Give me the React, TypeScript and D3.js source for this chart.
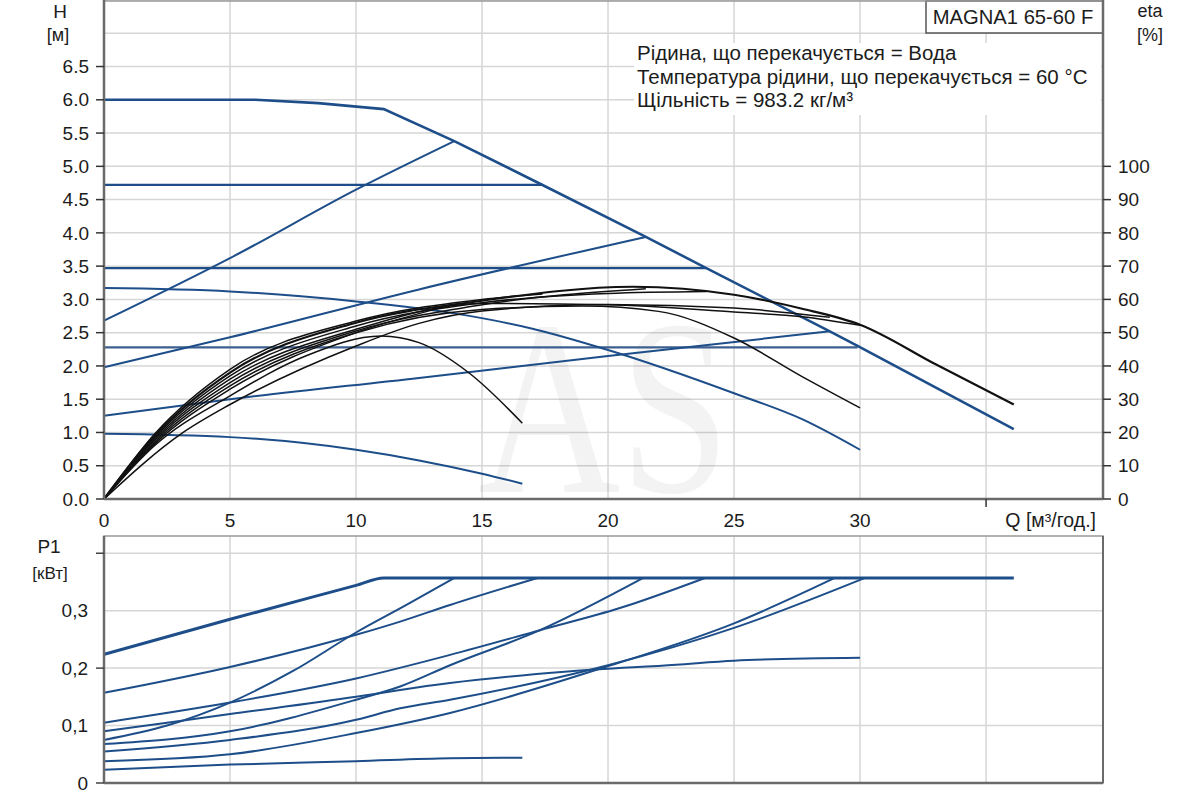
import * as d3 from "d3";

type Pt = [number, number];

// Q axis (m³/h), shared by both panels
const Q_TICKS = [0, 5, 10, 15, 20, 25, 30, 35];
const Q_LABELS = ["0", "5", "10", "15", "20", "25", "30"];
const H_TICKS = [0, 0.5, 1, 1.5, 2, 2.5, 3, 3.5, 4, 4.5, 5, 5.5, 6, 6.5, 7, 7.5];
const H_LABELS = [0, 0.5, 1, 1.5, 2, 2.5, 3, 3.5, 4, 4.5, 5, 5.5, 6, 6.5];
const ETA_LABELS = [0, 10, 20, 30, 40, 50, 60, 70, 80, 90, 100];
const P_TICKS = [0, 0.1, 0.2, 0.3, 0.4];
const P_LABELS = [0, 0.1, 0.2, 0.3];

// QH curves [Q, H]
const maxCurve: Pt[] = [[0, 6.0], [6, 6.0], [8.5, 5.95], [11.1, 5.86], [13.9, 5.38], [17.4, 4.72], [21.5, 3.94], [23.9, 3.47], [28.8, 2.52], [29.9, 2.3], [36.1, 1.05]];
const constHeads = [4.72, 3.47, 2.28];
const constEnds = [17.4, 23.9, 29.9];
const propCurve1: Pt[] = [[0, 2.68], [5, 3.62], [10, 4.65], [13.9, 5.38]];
const propCurve2: Pt[] = [[0, 1.98], [5, 2.43], [12.5, 3.15], [21.5, 3.94]];
const propCurve3: Pt[] = [[0, 1.25], [5, 1.5], [12.5, 1.82], [20, 2.15], [28.8, 2.52]];
const fixedSpeed1: Pt[] = [[0, 3.17], [5, 3.12], [10, 2.97], [13.9, 2.79], [17, 2.56], [20, 2.24], [25, 1.59], [27.7, 1.2], [30, 0.74]];
const fixedSpeed2: Pt[] = [[0, 0.98], [5, 0.93], [10, 0.74], [12.5, 0.58], [15, 0.38], [16.6, 0.23]];

// efficiency curves [Q, eta %]
const etaMax: Pt[] = [[0, 0], [2, 19], [5, 38], [10, 53], [15, 59.6], [21, 63.8], [25, 61.4], [27.7, 57.2], [30, 52.4], [33, 40.5], [36.1, 28.4]];
const etaConst1: Pt[] = [[0, 0], [2, 19.5], [5, 39], [10, 53.5], [15, 60], [17.4, 61.6]];
const etaConst2: Pt[] = [[0, 0], [2, 18.5], [5, 37], [10, 52], [15, 59], [20, 61.8], [23.9, 62.4]];
const etaConst3: Pt[] = [[0, 0], [2, 18], [5, 36], [10, 51], [15, 58.8], [20, 58.4], [25, 56.2], [27.7, 54.8], [30, 52.2]];
const etaProp1: Pt[] = [[0, 0], [2, 16.5], [5, 33], [10, 50], [13.9, 58.5]];
const etaProp2: Pt[] = [[0, 0], [2, 17.5], [5, 35], [10, 50.5], [15, 58.4], [21.5, 63.2]];
const etaProp3: Pt[] = [[0, 0], [3.1, 19.8], [5, 28.4], [10, 46], [12.5, 52.8], [15, 56.5], [20, 58.5], [25, 57.4], [28.8, 54.6]];
const etaFixed1: Pt[] = [[0, 0], [2, 17], [5, 34], [10, 50], [15, 57], [19, 58], [22, 56.4], [25, 48.4], [27.7, 36.8], [30, 27.4]];
const etaFixed2: Pt[] = [[0, 0], [2, 16], [5, 31], [8, 43], [11, 49], [12.5, 47], [14.5, 37.8], [16.6, 22.8]];

// power P1 [Q, kW]
const pMax: Pt[] = [[0, 0.224], [5, 0.285], [10, 0.344], [11.1, 0.357], [36.1, 0.357]];
const pConst1: Pt[] = [[0, 0.157], [5, 0.202], [10, 0.258], [11.75, 0.281], [13.73, 0.31], [17.2, 0.357]];
const pConst2: Pt[] = [[0, 0.105], [5, 0.14], [10, 0.182], [13.73, 0.223], [17.3, 0.266], [20.5, 0.305], [23.85, 0.357]];
const pConst3: Pt[] = [[0, 0.055], [5, 0.075], [10, 0.11], [11.75, 0.13], [13.73, 0.145], [20, 0.205], [25, 0.27], [30.2, 0.357]];
const pProp1: Pt[] = [[0, 0.075], [2.5, 0.1], [5, 0.14], [7.5, 0.195], [10, 0.262], [12, 0.31], [13.9, 0.357]];
const pProp2: Pt[] = [[0, 0.068], [5, 0.09], [10, 0.145], [11.75, 0.168], [13.73, 0.205], [17.3, 0.266], [21.4, 0.357]];
const pProp3: Pt[] = [[0, 0.038], [5, 0.05], [10, 0.087], [13.73, 0.122], [19.9, 0.202], [25, 0.278], [29, 0.357]];
const pFixed1: Pt[] = [[0, 0.09], [5, 0.12], [10, 0.15], [11.75, 0.162], [13.73, 0.174], [18.4, 0.194], [22.7, 0.206], [25, 0.213], [30, 0.218]];
const pFixed2: Pt[] = [[0, 0.023], [5, 0.032], [10, 0.038], [13.73, 0.043], [16.6, 0.044]];

const infoLines = [
  "Рідина, що перекачується = Вода",
  "Температура рідини, що перекачується = 60 °C",
  "Щільність = 983.2 кг/м³",
];

const BLUE = "#1d4e89";
const GRID = "#d6d6d6";
const AXIS = "#6a6a6a";
const INK = "#1c1c1c";
const FONT = "'Liberation Sans', Arial, sans-serif";

export default function App() {
  const left = 104;
  const right = 1103;

  const x = d3.scaleLinear().domain([0, 39.64]).range([left, right]);
  const yH = d3.scaleLinear().domain([0, 7.5]).range([499, 0]);
  const yEta = d3.scaleLinear().domain([0, 150]).range([499, 0]);
  const yP = d3.scaleLinear().domain([0, 0.43]).range([783, 536]);

  const lineH = d3.line<Pt>().x((d) => x(d[0])).y((d) => yH(d[1])).curve(d3.curveMonotoneX);
  const lineMax = d3.line<Pt>().x((d) => x(d[0])).y((d) => yH(d[1]));
  const lineEta = d3.line<Pt>().x((d) => x(d[0])).y((d) => yEta(d[1])).curve(d3.curveMonotoneX);
  const lineP = d3.line<Pt>().x((d) => x(d[0])).y((d) => yP(d[1])).curve(d3.curveMonotoneX);

  const blueH = [propCurve1, propCurve2, propCurve3, fixedSpeed1, fixedSpeed2];
  const etaCurves = [etaConst1, etaConst2, etaConst3, etaProp1, etaProp2, etaProp3, etaFixed1, etaFixed2];
  const powerCurves = [pConst1, pConst2, pConst3, pProp1, pProp2, pProp3, pFixed1, pFixed2];

  const fmtP = (v: number) => (v === 0 ? "0" : d3.format(".1f")(v).replace(".", ","));

  return (
    <div style={{ position: "fixed", left: 0, top: 0, width: 1200, height: 800, background: "#fff" }}>
      <svg width={1200} height={800} style={{ display: "block", fontFamily: FONT }}>
        <rect width={1200} height={800} fill="#fff" />

        {/* ---------- top panel: H / eta ---------- */}
        <g>
          {Q_TICKS.slice(1).map((q) => (
            <line key={"vg" + q} x1={x(q)} x2={x(q)} y1={yH(7.5)} y2={yH(0)} stroke={GRID} strokeWidth={1.5} />
          ))}
          {H_TICKS.slice(1).map((h) => (
            <line key={"hg" + h} x1={left} x2={right} y1={yH(h)} y2={yH(h)} stroke={GRID} strokeWidth={1.5} />
          ))}

          {/* watermark */}
          <text x={478} y={492} fontFamily="'Liberation Serif', 'DejaVu Serif', serif" fontSize={250}
            textLength={252} lengthAdjust="spacingAndGlyphs" fill="#000" opacity={0.045}>AS</text>

          {/* info box */}
          <rect x={634} y={43} width={467} height={72} fill="#fff" />
          {infoLines.map((t, i) => (
            <text key={t} x={637} y={53 + i * 23.5} dy="0.35em" fontSize={20.5} fill={INK}>{t}</text>
          ))}
          <rect x={926} y={1} width={177} height={32} fill="#fff" stroke="#555" strokeWidth={1.5} />
          <text x={1013} y={17} dy="0.35em" textAnchor="middle" fontSize={20.2} fill={INK}>MAGNA1 65-60 F</text>

          {/* blue QH curves */}
          {constHeads.map((h, i) => (
            <line key={"cp" + h} x1={x(0)} x2={x(constEnds[i])} y1={yH(h)} y2={yH(h)} stroke={i === 2 ? "#3d5f8f" : BLUE} strokeWidth={2.2} />
          ))}
          {blueH.map((c, i) => (
            <path key={"bh" + i} d={lineH(c) ?? ""} fill="none" stroke={BLUE} strokeWidth={2} />
          ))}
          <path d={lineMax(maxCurve) ?? ""} fill="none" stroke={BLUE} strokeWidth={2.6} />

          {/* efficiency curves */}
          {etaCurves.map((c, i) => (
            <path key={"eta" + i} d={lineEta(c) ?? ""} fill="none" stroke="#111" strokeWidth={1.5} />
          ))}
          <path d={lineEta(etaMax) ?? ""} fill="none" stroke="#111" strokeWidth={2.2} />

          {/* axes */}
          <line x1={left} x2={right} y1={1} y2={1} stroke="#999" strokeWidth={1.5} />
          <line x1={left} x2={left} y1={0} y2={yH(0)} stroke={AXIS} strokeWidth={2.5} />
          <line x1={right} x2={right} y1={0} y2={yH(0)} stroke={AXIS} strokeWidth={2.5} />
          <line x1={left} x2={right} y1={yH(0)} y2={yH(0)} stroke={AXIS} strokeWidth={2.5} />
          <line x1={x(35)} x2={x(35)} y1={yH(0)} y2={yH(0) + 8} stroke="#333" strokeWidth={1.5} />
          {Q_LABELS.map((l, i) => (
            <text key={"ql" + l} x={x(Q_TICKS[i])} y={520} dy="0.35em" textAnchor="middle" fontSize={19} fill={INK}>{l}</text>
          ))}
          <text x={1096} y={520} dy="0.35em" textAnchor="end" fontSize={19.5} fill={INK}>Q [м³/год.]</text>

          {H_LABELS.map((h) => (
            <g key={"hl" + h}>
              <line x1={left - 8} x2={left} y1={yH(h)} y2={yH(h)} stroke="#333" strokeWidth={1.5} />
              <text x={89} y={yH(h)} dy="0.35em" textAnchor="end" fontSize={19} fill={INK}>{d3.format(".1f")(h)}</text>
            </g>
          ))}
          <text x={60} y={11} dy="0.35em" textAnchor="middle" fontSize={19} fill={INK}>H</text>
          <text x={58} y={35} dy="0.35em" textAnchor="middle" fontSize={18} fill={INK}>[м]</text>

          {ETA_LABELS.map((e) => (
            <g key={"el" + e}>
              <line x1={right} x2={right + 8} y1={yEta(e)} y2={yEta(e)} stroke="#333" strokeWidth={1.5} />
              <text x={1118} y={yEta(e)} dy="0.35em" textAnchor="start" fontSize={19} fill={INK}>{e}</text>
            </g>
          ))}
          <text x={1150} y={11} dy="0.35em" textAnchor="middle" fontSize={18} fill={INK}>eta</text>
          <text x={1150} y={35} dy="0.35em" textAnchor="middle" fontSize={18} fill={INK}>[%]</text>
        </g>

        {/* ---------- bottom panel: P1 ---------- */}
        <g>
          {Q_TICKS.slice(1).map((q) => (
            <line key={"pvg" + q} x1={x(q)} x2={x(q)} y1={yP(0.43)} y2={yP(0)} stroke={GRID} strokeWidth={1.5} />
          ))}
          {P_TICKS.slice(1).map((p) => (
            <line key={"phg" + p} x1={left} x2={right} y1={yP(p)} y2={yP(p)} stroke={GRID} strokeWidth={1.5} />
          ))}

          {powerCurves.map((c, i) => (
            <path key={"p" + i} d={lineP(c) ?? ""} fill="none" stroke={BLUE} strokeWidth={2} />
          ))}
          <path d={lineP(pMax) ?? ""} fill="none" stroke={BLUE} strokeWidth={3} />

          <rect x={left} y={yP(0.43)} width={right - left} height={yP(0) - yP(0.43)} fill="none" stroke="#999" strokeWidth={1.5} />
          <line x1={left} x2={left} y1={yP(0.43)} y2={yP(0)} stroke={AXIS} strokeWidth={2.5} />
          <line x1={left} x2={right} y1={yP(0)} y2={yP(0)} stroke={AXIS} strokeWidth={2.5} />
          <line x1={right} x2={right} y1={yP(0.43)} y2={yP(0)} stroke={AXIS} strokeWidth={2} />
          {[0, 0.2, 0.4].map((p) => (
            <line key={"pt" + p} x1={left - 8} x2={left} y1={yP(p)} y2={yP(p)} stroke="#444" strokeWidth={1.5} />
          ))}
          {P_LABELS.map((p) => (
            <text key={"pl" + p} x={88} y={yP(p)} dy="0.35em" textAnchor="end" fontSize={19} fill={INK}>{fmtP(p)}</text>
          ))}
          <text x={49} y={546} dy="0.35em" textAnchor="middle" fontSize={19} fill={INK}>P1</text>
          <text x={50} y={573} dy="0.35em" textAnchor="middle" fontSize={17} fill={INK}>[кВт]</text>
        </g>
      </svg>
    </div>
  );
}
